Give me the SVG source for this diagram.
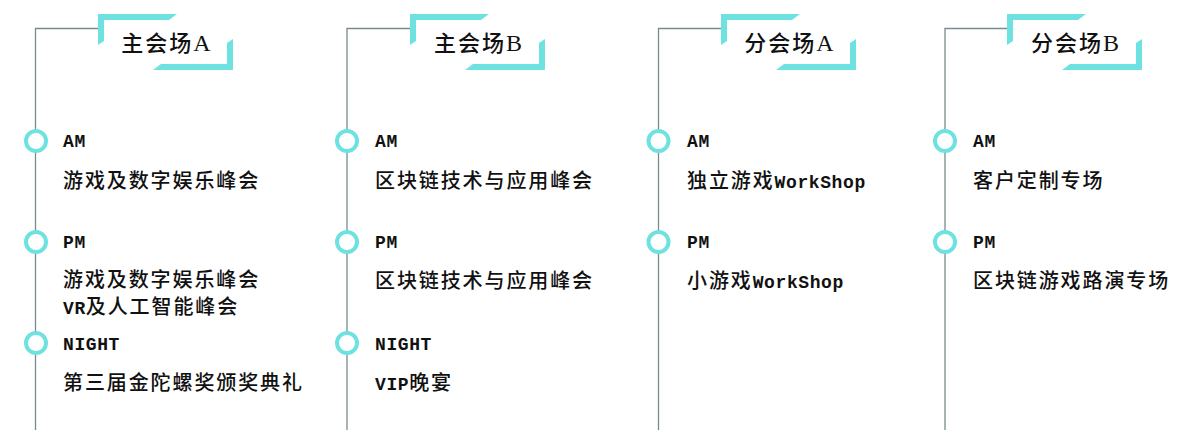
<svg xmlns="http://www.w3.org/2000/svg" width="1200" height="430" viewBox="0 0 1200 430">
<style>
.bg{fill:#ffffff}
.vline{stroke:#7a8b90;stroke-width:1.3;fill:none}
.br{fill:#6de2e0}
.dot{fill:#ffffff;stroke:#6de2e0;stroke-width:4}
.hd{font-family:"Noto Sans CJK SC","Liberation Serif",sans-serif;font-size:22px;font-weight:500;fill:#111;letter-spacing:2px}
.hdl{font-family:"Liberation Serif",serif;font-size:24px;letter-spacing:0}
.zh{font-family:"Noto Sans CJK SC",sans-serif;font-size:20px;font-weight:500;fill:#111;letter-spacing:1.9px}
.en{font-family:"Liberation Mono",monospace;font-size:18px;font-weight:bold;letter-spacing:0.6px}
.lbl{font-family:"Liberation Mono",monospace;font-size:18px;font-weight:bold;fill:#111;letter-spacing:0.6px}
</style>
<defs>
<g id="bracket">
<polygon class="br" points="0,14 79,14 71,20 6,20 6,41 0,45"/>
<polygon class="br" points="135,39 135,70 55,70 63,64 129,64 129,43"/>
</g>
</defs>
<rect class="bg" x="0" y="0" width="1200" height="430"/>
<g id="connectors">
<polyline class="vline" points="98,28.5 35.5,28.5 35.5,430"/>
<polyline class="vline" points="410,28.5 347,28.5 347,430"/>
<polyline class="vline" points="721,28.5 658.5,28.5 658.5,430"/>
<polyline class="vline" points="1007,28.5 945,28.5 945,430"/>
</g>
<g id="header-a">
<use href="#bracket" x="98" y="0"/>
<text class="hd" x="166" y="51" text-anchor="middle">主会场<tspan class="hdl">A</tspan></text>
</g>
<g id="header-b">
<use href="#bracket" x="410" y="0"/>
<text class="hd" x="478" y="51" text-anchor="middle">主会场<tspan class="hdl">B</tspan></text>
</g>
<g id="header-c">
<use href="#bracket" x="721" y="0"/>
<text class="hd" x="789" y="51" text-anchor="middle">分会场<tspan class="hdl">A</tspan></text>
</g>
<g id="header-d">
<use href="#bracket" x="1007" y="0"/>
<text class="hd" x="1075" y="51" text-anchor="middle">分会场<tspan class="hdl">B</tspan></text>
</g>
<g id="a-am">
<circle class="dot" cx="36" cy="141" r="10"/>
<text class="lbl" x="63" y="147">AM</text>
<text class="zh" x="63" y="188">游戏及数字娱乐峰会</text>
</g>
<g id="a-pm">
<circle class="dot" cx="36" cy="242" r="10"/>
<text class="lbl" x="63" y="248">PM</text>
<text class="zh" x="63" y="287">游戏及数字娱乐峰会</text>
<text class="zh" x="63" y="314"><tspan class="en">VR</tspan>及人工智能峰会</text>
</g>
<g id="a-night">
<circle class="dot" cx="36" cy="343" r="10"/>
<text class="lbl" x="63" y="350">NIGHT</text>
<text class="zh" x="63" y="390">第三届金陀螺奖颁奖典礼</text>
</g>
<g id="b-am">
<circle class="dot" cx="347" cy="141" r="10"/>
<text class="lbl" x="375" y="147">AM</text>
<text class="zh" x="375" y="188">区块链技术与应用峰会</text>
</g>
<g id="b-pm">
<circle class="dot" cx="347" cy="242" r="10"/>
<text class="lbl" x="375" y="248">PM</text>
<text class="zh" x="375" y="288">区块链技术与应用峰会</text>
</g>
<g id="b-night">
<circle class="dot" cx="347" cy="343" r="10"/>
<text class="lbl" x="375" y="350">NIGHT</text>
<text class="zh" x="375" y="390"><tspan class="en">VIP</tspan>晚宴</text>
</g>
<g id="c-am">
<circle class="dot" cx="658.5" cy="141" r="10"/>
<text class="lbl" x="687" y="147">AM</text>
<text class="zh" x="687" y="188">独立游戏<tspan class="en">WorkShop</tspan></text>
</g>
<g id="c-pm">
<circle class="dot" cx="658.5" cy="242" r="10"/>
<text class="lbl" x="687" y="248">PM</text>
<text class="zh" x="687" y="288">小游戏<tspan class="en">WorkShop</tspan></text>
</g>
<g id="d-am">
<circle class="dot" cx="945" cy="141" r="10"/>
<text class="lbl" x="973" y="147">AM</text>
<text class="zh" x="973" y="188">客户定制专场</text>
</g>
<g id="d-pm">
<circle class="dot" cx="945" cy="242" r="10"/>
<text class="lbl" x="973" y="248">PM</text>
<text class="zh" x="973" y="288">区块链游戏路演专场</text>
</g>
</svg>
